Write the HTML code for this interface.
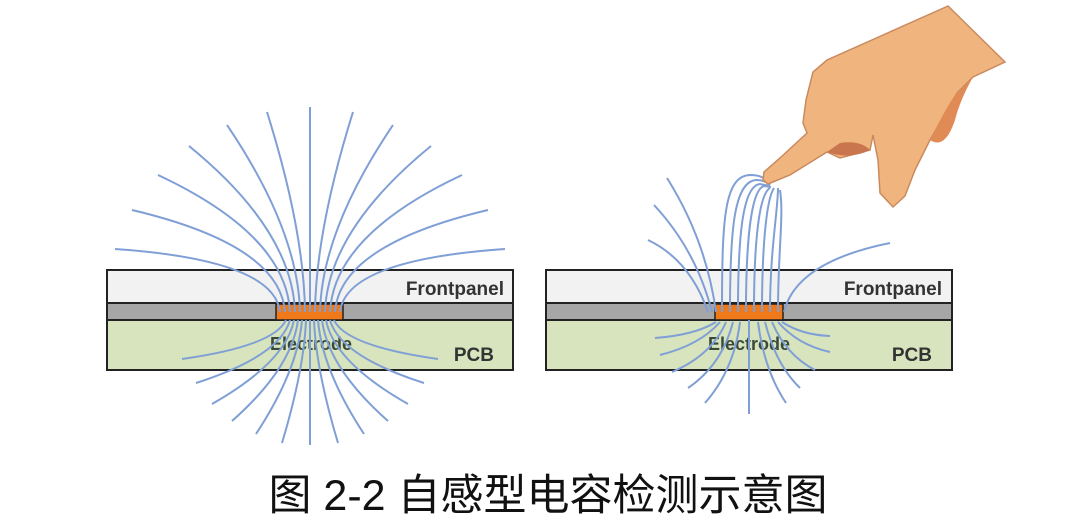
<!DOCTYPE html>
<html><head><meta charset="utf-8"><style>
html,body{margin:0;padding:0;background:#fff;width:1080px;height:528px;overflow:hidden}
</style></head><body>
<svg width="1080" height="528" viewBox="0 0 1080 528" xmlns="http://www.w3.org/2000/svg" font-family="Liberation Sans, sans-serif">
<!-- left panel -->
<rect x="107" y="270" width="406" height="33" fill="#f2f2f2" stroke="#222" stroke-width="2"/>
<rect x="107" y="303" width="406" height="17" fill="#a6a6a6" stroke="#222" stroke-width="2"/>
<rect x="107" y="320" width="406" height="50" fill="#d7e4bd" stroke="#222" stroke-width="2"/>
<rect x="276" y="304" width="67" height="16" fill="#f07a1a" stroke="#222" stroke-width="1.5"/>
<text x="504" y="295" font-size="19" font-weight="bold" fill="#333" text-anchor="end">Frontpanel</text>
<text x="494" y="361" font-size="19" font-weight="bold" fill="#333" text-anchor="end">PCB</text>
<text x="311" y="350" font-size="18" font-weight="bold" fill="#3a4a3a" text-anchor="middle">Electrode</text>
<g fill="none" stroke="#7f9fd6" stroke-width="2">
<path d="M310 312 Q310 230 310 107"/>
<path d="M315 312 Q316 230 353 112"/><path d="M305 312 Q304 230 267 112"/>
<path d="M320 312 Q322 230 393 125"/><path d="M300 312 Q298 230 227 125"/>
<path d="M325 312 Q328 230 431 146"/><path d="M295 312 Q292 230 189 146"/>
<path d="M330 312 Q334 235 462 175"/><path d="M290 312 Q286 235 158 175"/>
<path d="M335 312 Q340 245 488 210"/><path d="M285 312 Q280 245 132 210"/>
<path d="M340 312 Q346 260 505 249"/><path d="M280 312 Q274 260 115 249"/>
<path d="M310 320 L310 445"/>
<path d="M314 320 Q316 370 338 443"/><path d="M306 320 Q304 370 282 443"/>
<path d="M318 320 Q322 370 364 434"/><path d="M302 320 Q298 370 256 434"/>
<path d="M322 320 Q328 368 388 421"/><path d="M298 320 Q292 368 232 421"/>
<path d="M326 320 Q334 362 408 404"/><path d="M294 320 Q286 362 212 404"/>
<path d="M330 320 Q340 356 424 383"/><path d="M290 320 Q280 356 196 383"/>
<path d="M334 320 Q346 346 438 359"/><path d="M286 320 Q274 346 182 359"/>
</g>
<!-- right panel -->
<rect x="546" y="270" width="406" height="33" fill="#f2f2f2" stroke="#222" stroke-width="2"/>
<rect x="546" y="303" width="406" height="17" fill="#a6a6a6" stroke="#222" stroke-width="2"/>
<rect x="546" y="320" width="406" height="50" fill="#d7e4bd" stroke="#222" stroke-width="2"/>
<rect x="715" y="304" width="68" height="16" fill="#f07a1a" stroke="#222" stroke-width="1.5"/>
<text x="942" y="295" font-size="19" font-weight="bold" fill="#333" text-anchor="end">Frontpanel</text>
<text x="932" y="361" font-size="19" font-weight="bold" fill="#333" text-anchor="end">PCB</text>
<text x="749" y="350" font-size="18" font-weight="bold" fill="#3a4a3a" text-anchor="middle">Electrode</text>
<g fill="none" stroke="#7f9fd6" stroke-width="2">
<path d="M722 312 C722 220 724 176 750 175 C762 175 768 180 770 184"/>
<path d="M730 312 C730 230 734 182 756 180 C764 180 768 183 770 185"/>
<path d="M738 312 C738 240 742 186 760 184 L770 186"/>
<path d="M746 312 C746 250 750 190 764 186 L771 187"/>
<path d="M754 312 C754 250 758 195 770 188"/>
<path d="M762 312 C762 250 766 200 774 188"/>
<path d="M770 312 C770 250 778 210 778 188"/>
<path d="M778 312 C778 250 784 215 780 190"/>
<path d="M716 312 Q706 240 667 178"/>
<path d="M712 312 Q696 250 654 205"/>
<path d="M708 312 Q690 260 648 240"/>
<path d="M784 312 Q796 262 890 243"/>
<path d="M749 320 L749 414"/>
<path d="M740 322 Q734 370 705 403"/><path d="M758 322 Q764 370 786 403"/>
<path d="M733 322 Q722 365 688 388"/><path d="M765 322 Q776 365 800 388"/>
<path d="M726 322 Q712 355 672 372"/><path d="M772 322 Q786 355 815 370"/>
<path d="M720 322 Q700 345 660 355"/><path d="M778 322 Q798 345 830 352"/>
<path d="M716 322 Q695 335 655 338"/><path d="M782 322 Q802 335 830 336"/>
</g>
<!-- hand -->
<path d="M948 6 L827 60 L813 72 L806 100 L803 123 L807 133 L780 158 L764 172 L763 180 L768 184 L790 175 L827 152 L840 158 L870 150 L873 135 L878 160 L880 193 L893 207 L905 196 L915 170 L930 140 L957 93 L973 77 L1005 62 Z" fill="#f0b47e" stroke="#c98a5e" stroke-width="1.5"/>
<path d="M827 152 Q850 160 870 150 Q860 140 840 143 Z" fill="#c9754e"/>
<path d="M973 77 Q960 100 955 120 Q945 150 930 140 Q950 100 957 93 Z" fill="#e08a55"/>
<!-- caption -->
<text x="548" y="510" font-size="43" fill="#111" text-anchor="middle" font-family="Liberation Sans, Noto Sans CJK SC, sans-serif">图 2-2 自感型电容检测示意图</text>
</svg>
</body></html>
